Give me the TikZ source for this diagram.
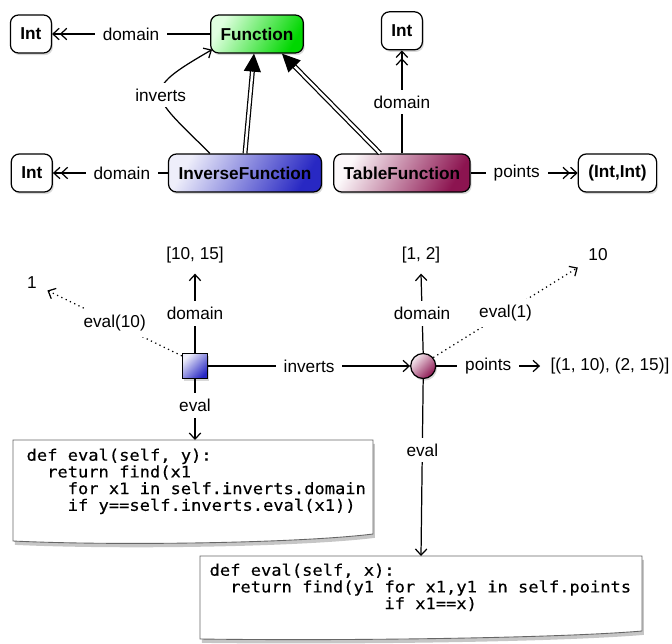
\documentclass[tikz,border=0pt]{standalone}
\usepackage{fontspec}
\setmainfont{Liberation Sans}
\newfontfamily\codefont[FakeStretch=1.08,FakeBold=0.3]{DejaVu Sans Mono}
\usetikzlibrary{positioning,arrows.meta,shadows,calc}

\definecolor{fngreen}{RGB}{0,215,0}
\definecolor{invblue}{RGB}{40,40,195}
\definecolor{tabred}{RGB}{140,20,80}
\newcommand\diafont{\fontsize{9.8pt}{11.5pt}\selectfont}
\newcommand\codesize{\codefont\fontsize{9pt}{9.5pt}\selectfont\lineskiplimit=-10pt\relax}

\tikzset{
  soft shadow/.style={drop shadow={shadow xshift=0.8pt,shadow yshift=-1.2pt,opacity=0.3}},
  cls/.style={draw,rounded corners=0.16cm,minimum height=0.76cm,inner xsep=0.2cm,inner ysep=0pt,font=\diafont\bfseries,soft shadow},
  plain/.style={cls,fill=white},
  fnbox/.style={cls,top color=green!12,bottom color=fngreen,shading angle=60},
  invbox/.style={cls,top color=invblue!8,bottom color=invblue,shading angle=60},
  tabbox/.style={cls,top color=tabred!3,bottom color=tabred,shading angle=60},
  sqnode/.style={draw,minimum size=0.5cm,inner sep=0pt,top color=invblue!8,bottom color=invblue,shading angle=45,soft shadow},
  circnode/.style={draw,circle,minimum size=0.5cm,inner sep=0pt,top color=tabred!8,bottom color=tabred,shading angle=45,soft shadow},
  lbl/.style={fill=white,inner xsep=0.16cm,inner ysep=0.12cm},
  txt/.style={inner sep=0.2cm},
  barb/.tip={Straight Barb[length=3.5pt,width=6.5pt]},
  hasa/.style={-{barb[]barb[]}},
  ref/.style={-{barb[]}},
  isa/.style={double,double distance=1.4pt,shorten >=0.34cm},
  isatip/.style={-{Triangle[length=0.36cm,width=0.34cm]}},
  paper/.style={draw=black!60,fill=white,line width=0.5pt,drop shadow={shadow xshift=1pt,shadow yshift=-2.2pt,opacity=0.45}},
  code/.style={font=\codesize,align=left,inner sep=0pt,anchor=north west}
}

\begin{document}
\begin{tikzpicture}[x=0.02cm,y=-0.02cm,line width=0.7pt,font=\diafont]
  \useasboundingbox (0,0) rectangle (672,643);

  \node[fnbox] (fn) at (257,34) {Function};
  \node[plain,left=3.16cm of fn] (int_a) {Int};
  \node[invbox] (inv) at (245,173) {InverseFunction};
  \node[plain,left=2.3cm of inv] (int_b) {Int};
  \node[tabbox,right=0.22cm of inv] (tab) {TableFunction};
  \node[plain,above=2.06cm of tab] (int_c) {Int};
  \node[plain,right=2.14cm of tab] (pair) {(Int,Int)};

  \coordinate (inv_top) at ([xshift=0.84cm]inv.north west);
  \coordinate (fn_corner) at ([shift={(0.04cm,0.08cm)}]fn.south west);
  \coordinate (fn_a) at ([xshift=-0.06cm]fn.south);
  \coordinate (fn_b) at ([xshift=-0.44cm]fn.south east);
  \coordinate (tab_top) at ([xshift=0.94cm]tab.north west);

  \draw[hasa] (fn.west) -- node[lbl]{domain} (int_a.east);
  \draw[hasa] (inv.west) -- node[lbl,pos=0.4]{domain} (int_b.east);
  \draw[hasa] (tab.north) -- node[lbl]{domain} (int_c.south);
  \draw[hasa] (tab.east) -- node[lbl,pos=0.43]{points} (pair.west);
  \draw[ref] (inv_top) to[out=135,in=210,looseness=2.1] node[lbl]{inverts} (fn_corner);
  \draw[isa] (inv.north) -- (fn_a);
  \draw[isatip] ($(fn_a)!0.36cm!(inv.north)$) -- (fn_a);
  \draw[isa] (tab_top) -- (fn_b);
  \draw[isatip] ($(fn_b)!0.36cm!(tab_top)$) -- (fn_b);

  \node[sqnode] (sq) at (195,366) {};
  \node[circnode,right=4.04cm of sq] (circ) {};
  \node[txt] (rng_a) at (195,255) {[10, 15]};
  \node[txt] (one) at (32,283) {1};
  \node[txt] (rng_b) at (421,255) {[1, 2]};
  \node[txt] (ten) at (598,255) {10};
  \node[txt] (pts) at (610,366) {[(1, 10), (2, 15)]};

  \draw[paper] (13,440) -- (373,440) -- (373,534) .. controls (300,543) and (120,546) .. (13,541) -- cycle;
  \node[code] (code_a) at (26,448) {def eval(self, y):\\
    \phantom{xx}return find(x1\\
    \phantom{xxxx}for x1 in self.inverts.domain\\
    \phantom{xxxx}if y==self.inverts.eval(x1))};
  \draw[paper] (200,556) -- (642,556) -- (642,631) .. controls (560,638) and (350,641) .. (200,639) -- cycle;
  \node[code] (code_b) at (209,563) {def eval(self, x):\\
    \phantom{xx}return find(y1 for x1,y1 in self.points\\
    \phantom{xxxxxxxxxxxxxxxxx}if x1==x)};
  \coordinate (code_a_top) at (195,440);
  \coordinate (code_b_top) at (421,556);

  \draw[ref] (sq.north) -- node[lbl]{domain} (rng_a.south);
  \draw[ref,dotted] ([yshift=-0.06cm]sq.north west) -- node[lbl]{eval(10)} (one);
  \draw[ref] (sq.east) -- node[lbl]{inverts} (circ.west);
  \draw[ref] (sq.south) -- node[lbl,pos=0.43]{eval} (code_a_top);
  \draw[ref] (circ.north) -- node[lbl]{domain} (rng_b.south);
  \draw[ref,dotted] (circ.40) -- node[lbl]{eval(1)} (ten);
  \draw[ref] (circ.east) -- node[lbl]{points} (pts.west);
  \draw[ref] (circ.south) -- node[lbl,pos=0.4]{eval} (code_b_top);
\end{tikzpicture}
\end{document}
